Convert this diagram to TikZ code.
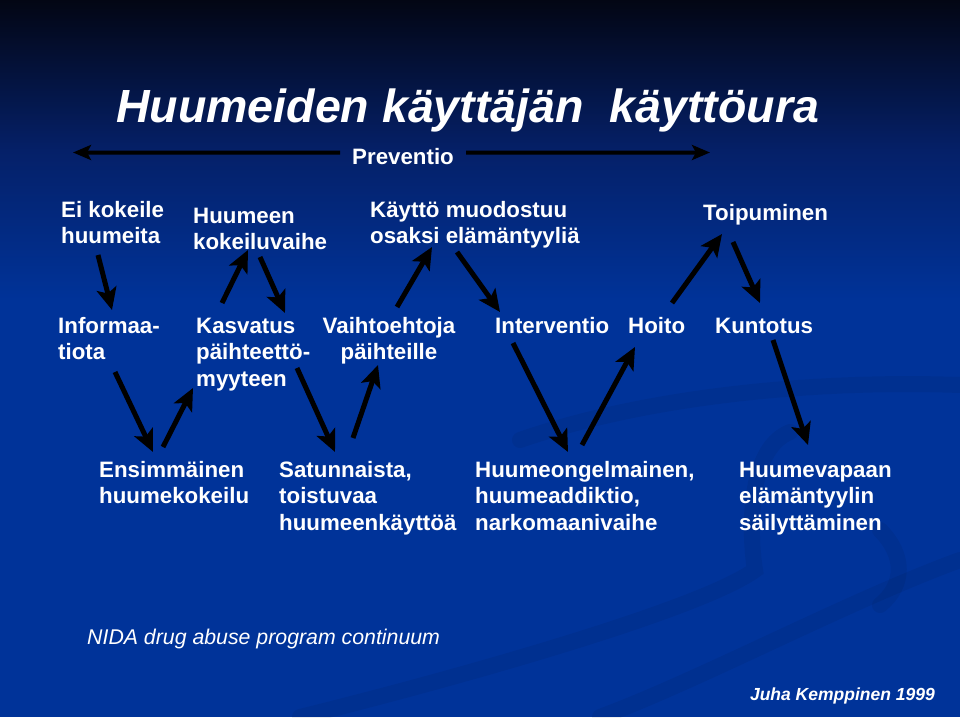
\documentclass[tikz,border=0pt]{standalone}
\usepackage{fontspec}
\setmainfont{Liberation Sans}
\newfontfamily\titlefont{Liberation Sans}
\usetikzlibrary{arrows.meta}

\definecolor{bgtop}{RGB}{3,6,20}
\definecolor{bgmid}{RGB}{5,32,104}
\definecolor{bgblue}{RGB}{0,51,153}

\newcommand{\bodyfont}{\fontsize{22.3}{26.5}\selectfont\bfseries}

\tikzset{
  lbl/.style={font=\bodyfont, text=white, align=left, inner sep=0pt, anchor=north west, yshift=18.55pt},
  arr/.style={line width=5pt, -{Stealth[length=22pt,width=20pt,inset=5pt]}},
  prevarr/.style={line width=4pt, -{Stealth[length=18pt,width=15pt,inset=4pt]}},
  swoosh/.style={line width=16pt, black, opacity=.06, line cap=round},
}

\begin{document}
\begin{tikzpicture}[x=1pt, y=-1pt]
    \useasboundingbox (0,0) rectangle (960,717);
    % background
    \shade[top color=bgtop, bottom color=bgmid] (0,0) rectangle (960,151);
    \shade[top color=bgmid, bottom color=bgblue] (0,150) rectangle (960,301);
    \fill[bgblue] (0,300) rectangle (960,717);
    \draw[swoosh] (520,440) .. controls (650,395) and (820,380) .. (960,385);
    \draw[swoosh] (790,432) .. controls (745,450) and (750,540) .. (755,570) .. controls (700,610) and (450,680) .. (300,717);
    \draw[swoosh] (960,560) .. controls (850,600) and (700,680) .. (600,717);
    \draw[swoosh] (880,530) .. controls (905,555) and (905,585) .. (880,605);

    % title and prevention line
    \node[anchor=base west, inner sep=0pt, text=white, font=\titlefont\fontsize{46.5}{54}\selectfont\bfseries\itshape] (title) at (116,122) {Huumeiden käyttäjän \ käyttöura};
    \node[anchor=base west, inner ysep=0pt, inner xsep=12pt, text=white, font=\bodyfont] (prev) at (340,164) {Preventio};
    \coordinate (prevL) at (73,152.5);    % left end
    \coordinate (prevR) at (710,152.5);   % right end
    \draw[prevarr] ([yshift=3.5pt]prev.west) -- (prevL);
    \draw[prevarr] ([yshift=3.5pt]prev.east) -- (prevR);

    % top row
    \node[lbl] (ei)  at (61,217)  {\strut Ei kokeile\\huumeita};
    \node[lbl] (kok) at (193,223) {\strut Huumeen\\kokeiluvaihe};
    \node[lbl] (kay) at (370,217) {\strut Käyttö muodostuu\\osaksi elämäntyyliä};
    \node[lbl] (toi) at (703,220) {\strut Toipuminen};
    % middle row
    \node[lbl] (inf) at (58,333)  {\strut Informaa-\\tiota};
    \node[lbl] (kas) at (196,333) {\strut Kasvatus\\päihteettö-\\myyteen};
    \node[lbl, anchor=north, align=center] (vai) at (389,333) {\strut Vaihtoehtoja\\päihteille};
    \node[lbl] (int) at (495,333) {\strut Interventio};
    \node[lbl] (hoi) at (628,333) {\strut Hoito};
    \node[lbl] (kun) at (715,333) {\strut Kuntotus};
    % bottom row
    \node[lbl] (ens) at (99,477)  {\strut Ensimmäinen\\huumekokeilu};
    \node[lbl] (sat) at (279,477) {\strut Satunnaista,\\toistuvaa\\huumeenkäyttöä};
    \node[lbl] (ong) at (475,477) {\strut Huumeongelmainen,\\huumeaddiktio,\\narkomaanivaihe};
    \node[lbl] (vap) at (739,477) {\strut Huumevapaan\\elämäntyylin\\säilyttäminen};

    % footer
    \node[anchor=base west, inner sep=0pt, text=white, font=\fontsize{21.3}{25}\selectfont\itshape] (nida) at (87,644) {NIDA drug abuse program continuum};
    \node[anchor=base east, inner sep=0pt, text=white, font=\fontsize{17.5}{21}\selectfont\bfseries\itshape] (juha) at (935,700) {Juha Kemppinen 1999};

    % arrow ends
    \coordinate (ei-s) at (98,255);   \coordinate (inf-n) at (112,310);
    \coordinate (kas-n) at (222,303); \coordinate (kok-s) at (248,250);
    \coordinate (kok-r) at (260,257); \coordinate (kas-r) at (285,313);
    \coordinate (vai-n) at (397,307); \coordinate (kay-s) at (432,247);
    \coordinate (kay-r) at (457,252); \coordinate (int-n) at (500,312);
    \coordinate (hoi-n) at (672,303); \coordinate (toi-s) at (722,234);
    \coordinate (toi-r) at (733,242); \coordinate (kun-n) at (760,303);
    \coordinate (inf-s) at (115,372); \coordinate (ens-n) at (153,452);
    \coordinate (ens-r) at (163,447); \coordinate (kas-s) at (193,388);
    \coordinate (kas-d) at (297,368); \coordinate (sat-n) at (335,452);
    \coordinate (sat-r) at (353,438); \coordinate (vai-s) at (378,365);
    \coordinate (int-s) at (513,343); \coordinate (ong-n) at (568,452);
    \coordinate (ong-r) at (582,445); \coordinate (hoi-s) at (635,347);
    \coordinate (kun-s) at (773,340); \coordinate (vap-n) at (808,445);

    % zigzag path of the career
    \draw[arr] (ei-s) -- (inf-n);
    \draw[arr] (kas-n) -- (kok-s);
    \draw[arr] (kok-r) -- (kas-r);
    \draw[arr] (vai-n) -- (kay-s);
    \draw[arr] (kay-r) -- (int-n);
    \draw[arr] (hoi-n) -- (toi-s);
    \draw[arr] (toi-r) -- (kun-n);
    \draw[arr] (inf-s) -- (ens-n);
    \draw[arr] (ens-r) -- (kas-s);
    \draw[arr] (kas-d) -- (sat-n);
    \draw[arr] (sat-r) -- (vai-s);
    \draw[arr] (int-s) -- (ong-n);
    \draw[arr] (ong-r) -- (hoi-s);
    \draw[arr] (kun-s) -- (vap-n);
\end{tikzpicture}
\end{document}
